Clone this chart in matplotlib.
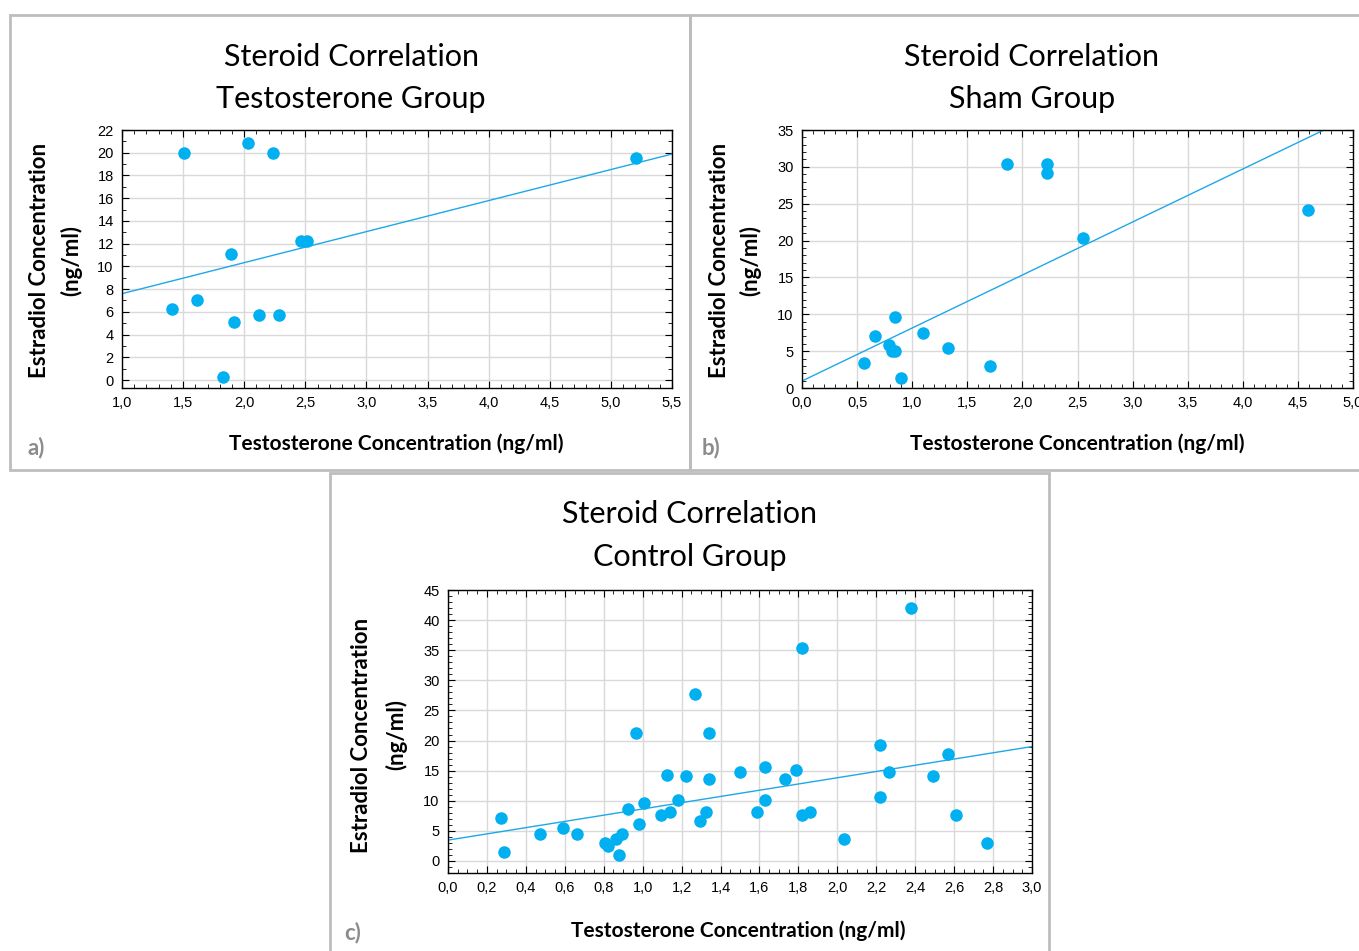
import numpy as np
import matplotlib
matplotlib.use("Agg")
import matplotlib.pyplot as plt
from matplotlib.patches import Rectangle
from matplotlib.ticker import MultipleLocator, FuncFormatter

# testosterone group
testo_x = [1.505, 2.03, 2.237, 5.206, 2.468, 2.51, 1.89, 1.615, 1.41, 1.917, 2.123, 2.286, 1.825]
testo_y = [20.0, 20.85, 20.0, 19.53, 12.2, 12.2, 11.1, 7.07, 6.24, 5.15, 5.68, 5.68, 0.29]
testo_fit = (2.73, 4.87)   # slope, intercept

# sham group
sham_x = [1.864, 2.219, 2.219, 4.588, 2.55, 0.843, 0.666, 1.101, 0.79, 0.82, 0.847, 1.329, 0.562, 1.71, 0.894]
sham_y = [30.4, 30.4, 29.1, 24.2, 20.4, 9.6, 7.1, 7.5, 5.9, 5.0, 5.0, 5.4, 3.35, 2.94, 1.31]
sham_fit = (7.19, 0.95)

# control group
ctrl_x = [0.274, 0.289, 0.475, 0.59, 0.661, 0.808, 0.822, 0.864, 0.893, 0.879, 0.923, 0.964,
          0.979, 1.008, 1.094, 1.123, 1.138, 1.18, 1.224, 1.268, 1.297, 1.326, 1.341, 1.341,
          1.5, 1.586, 1.63, 1.63, 1.73, 1.789, 1.816, 1.816, 1.86, 2.033, 2.22, 2.22, 2.264,
          2.379, 2.494, 2.567, 2.609, 2.768]
ctrl_y = [7.13, 1.54, 4.56, 5.54, 4.56, 3.02, 2.52, 3.57, 4.56, 1.04, 8.67, 21.2,
          6.09, 9.6, 7.63, 14.2, 8.07, 10.1, 14.16, 27.77, 6.59, 8.12, 21.2, 13.67,
          14.7, 8.12, 15.64, 10.15, 13.67, 15.15, 35.35, 7.63, 8.12, 3.57, 19.26, 10.65, 14.7,
          41.93, 14.16, 17.73, 7.63, 3.02]
ctrl_fit = (5.18, 3.46)

W, H = 1359, 951
BLUE = "#00b0f0"
LINE = "#1ea8e8"
BORDER = "#bdbdbd"

fig = plt.figure(figsize=(W / 100, H / 100), dpi=100)


def px(x0, y0, x1, y1):
    # pixel box (top-left origin) -> figure fraction rect
    return [x0 / W, 1 - y1 / H, (x1 - x0) / W, (y1 - y0) / H]


def comma(v, pos):
    return ("%.1f" % v).replace(".", ",")


def panel(box, xs, ys, fit, xlim, ylim, xmaj, xmin, ymaj, ymin):
    ax = fig.add_axes(px(*box))
    ax.plot(xs, ys, "o", color=BLUE, ms=8, mec=BLUE, zorder=3, clip_on=False)
    k, b = fit
    xx = np.array(xlim)
    ax.plot(xx, k * xx + b, color=LINE, lw=1, zorder=2)
    ax.set_xlim(xlim)
    ax.set_ylim(ylim)
    ax.xaxis.set_major_locator(MultipleLocator(xmaj))
    ax.xaxis.set_minor_locator(MultipleLocator(xmin))
    ax.yaxis.set_major_locator(MultipleLocator(ymaj))
    ax.yaxis.set_minor_locator(MultipleLocator(ymin))
    ax.xaxis.set_major_formatter(FuncFormatter(comma))
    ax.grid(True, which="major", color="#d9d9d9", lw=1)
    ax.tick_params(which="both", direction="in", top=True, right=True,
                   labelsize=10.5, colors="black")
    ax.tick_params(which="major", length=5, pad=6)
    ax.tick_params(which="minor", length=3)
    for t in ax.get_xticklabels() + ax.get_yticklabels():
        t.set_fontfamily("Liberation Sans")
    for s in ax.spines.values():
        s.set_linewidth(1)
    return ax


panel((122, 130, 672, 388), testo_x, testo_y, testo_fit, (1.0, 5.5), (-0.7, 22),
      0.5, 0.1, 2, 1)
panel((802, 130, 1353, 388), sham_x, sham_y, sham_fit, (0.0, 5.0), (0, 35),
      0.5, 0.1, 5, 1)
panel((448, 590, 1032, 873), ctrl_x, ctrl_y, ctrl_fit, (0.0, 3.0), (-2, 45),
      0.2, 0.05, 5, 1)

# panel borders
for (x0, y0, x1, y1) in [(10, 15, 690, 470), (690, 15, 1368, 470), (330, 473, 1049, 960)]:
    fig.patches.append(Rectangle((x0 / W, 1 - y1 / H), (x1 - x0) / W, (y1 - y0) / H,
                                 transform=fig.transFigure, fill=False,
                                 ec=BORDER, lw=2, zorder=0))


def ftext(x, y, s, **kw):
    fig.text(x / W, 1 - y / H, s, ha="center", va="center", family="Lato", **kw)


titles = [(351, "Steroid Correlation", "Testosterone Group"),
          (1032, "Steroid Correlation", "Sham Group")]
for cx, l1, l2 in titles:
    ftext(cx, 57, l1, fontsize=22)
    ftext(cx, 99, l2, fontsize=22)
ftext(690, 514, "Steroid Correlation", fontsize=22)
ftext(690, 557, "Control Group", fontsize=22)

# axis labels
for xl, cx, ly in [(396, 40, 444), (1077, 719, 444)]:
    ftext(xl, ly, "Testosterone Concentration (ng/ml)", fontsize=15, fontweight="bold")
    ftext(cx, 260, "Estradiol Concentration", fontsize=16, fontweight="bold", rotation=90)
    ftext(cx + 31, 260, "(ng/ml)", fontsize=16, fontweight="bold", rotation=90)
ftext(738, 931, "Testosterone Concentration (ng/ml)", fontsize=15, fontweight="bold")
ftext(361, 735, "Estradiol Concentration", fontsize=16, fontweight="bold", rotation=90)
ftext(396, 735, "(ng/ml)", fontsize=16, fontweight="bold", rotation=90)

for x, y, s in [(36, 448, "a)"), (711, 448, "b)"), (353, 933, "c)")]:
    ftext(x, y, s, fontsize=16, fontweight="bold", color="#8c8c8c")

fig.savefig("out.png", dpi=100, facecolor="white")
